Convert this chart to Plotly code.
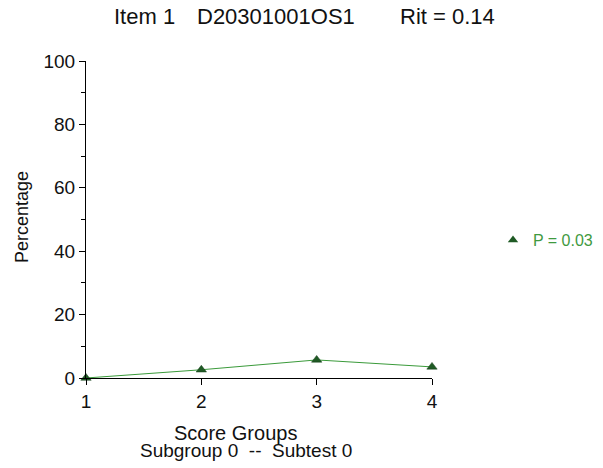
import plotly.graph_objects as go

score_groups = [1, 2, 3, 4]
percentages = [0.0, 2.6, 5.7, 3.5]
legend_label = "P = 0.03"
title_parts = ["Item 1", "D20301001OS1", "Rit = 0.14"]
x_title = "Score Groups"
x_subtitle = "Subgroup 0  --  Subtest 0"
y_title = "Percentage"

FONT = "Liberation Sans, Arial, sans-serif"
LINE_GREEN = "#3a9a3a"
MARK_GREEN = "#1f5a24"

# plot area in page pixels: x 86..432, y 61..378 (page has 8px body offset)
PX0, PX1, PY0, PY1 = 86, 432, 61, 378
W, H = PX1 - PX0, PY1 - PY0


def px(x):
    return (x - PX0) / W


def py(y):
    return (PY1 - y) / H


fig = go.Figure()
fig.add_trace(go.Scatter(
    x=score_groups, y=percentages, mode="lines+markers",
    line=dict(color=LINE_GREEN, width=1),
    marker=dict(symbol="triangle-up", size=9, color=MARK_GREEN,
                line=dict(color="#143d18", width=0.5)),
    cliponaxis=False, showlegend=False,
))
fig.add_trace(go.Scatter(
    x=[None], y=[None], mode="markers", name=legend_label,
    marker=dict(symbol="triangle-up", size=9, color=MARK_GREEN),
    showlegend=True,
))

annotations = []
for text, left in zip(title_parts, [112, 195, 398]):
    annotations.append(dict(text=text, xref="paper", yref="paper",
                            x=px(left), y=py(17), xanchor="left",
                            yanchor="middle", showarrow=False,
                            font=dict(size=22, family=FONT)))
annotations += [
    dict(text=x_title, xref="paper", yref="paper", x=px(235), y=py(433),
         xanchor="center", yanchor="middle", showarrow=False,
         font=dict(size=20, family=FONT)),
    dict(text=x_subtitle, xref="paper", yref="paper", x=px(246), y=py(450),
         xanchor="center", yanchor="middle", showarrow=False,
         font=dict(size=19, family=FONT)),
    dict(text=y_title, xref="paper", yref="paper", x=px(22), y=py(217),
         xanchor="center", yanchor="middle", showarrow=False, textangle=-90,
         font=dict(size=18, family=FONT)),
]

fig.update_layout(
    width=603, height=468,
    margin=dict(l=PX0 - 8, r=603 - PX1 + 8, t=PY0 - 8, b=468 - PY1 + 8,
                autoexpand=False),
    paper_bgcolor="white", plot_bgcolor="white",
    font=dict(family=FONT, size=19, color="#111111"),
    showlegend=True,
    legend=dict(x=px(493), y=py(240), xanchor="left", yanchor="middle",
                font=dict(size=16, color="#3f9a3f", family=FONT),
                bgcolor="rgba(0,0,0,0)", itemwidth=30),
    xaxis=dict(range=[1, 4], tickvals=score_groups, ticks="outside",
               ticklen=6, tickcolor="black", showline=True, linecolor="black",
               linewidth=1, showgrid=False, zeroline=False,
               tickfont=dict(size=19, family=FONT)),
    yaxis=dict(range=[0, 100], dtick=20, ticks="outside", ticklen=6,
               tickcolor="black", showline=True, linecolor="black",
               linewidth=1, showgrid=False, zeroline=False,
               tickfont=dict(size=19, family=FONT),
               minor=dict(dtick=10, ticks="outside", ticklen=4,
                          tickcolor="black")),
    annotations=annotations,
)

fig.write_html("out.html")
